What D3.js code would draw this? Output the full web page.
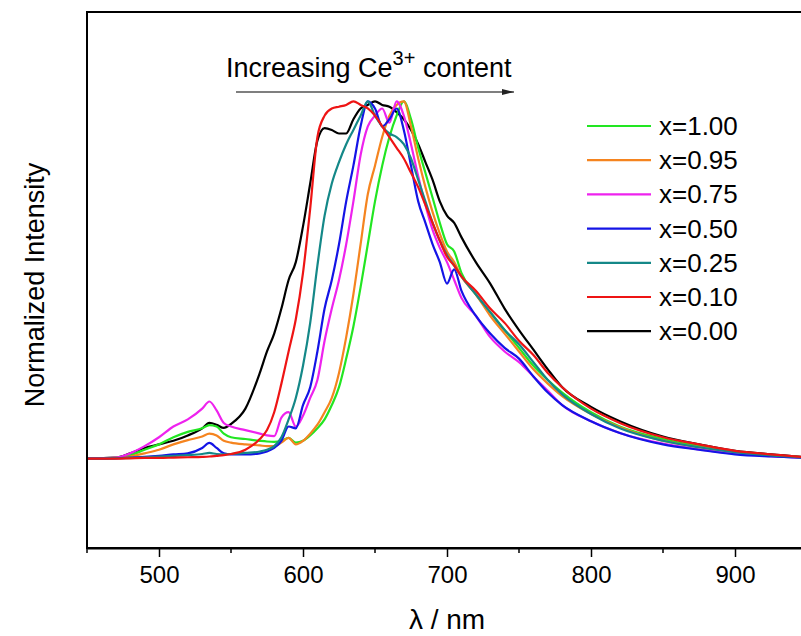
<!DOCTYPE html>
<html>
<head>
<meta charset="utf-8">
<script src="https://cdn.jsdelivr.net/npm/d3@7"></script>
<style>
  body { margin: 0; background: #fff; }
  text { font-family: "Liberation Sans", Arial, sans-serif; fill: #000; }
</style>
</head>
<body>
<div id="chart"></div>
<script>
// wavelength grid (nm) shared by all spectra
const wavelengths = [450, 470, 480, 490, 500, 510, 520, 530, 535, 540, 545, 550, 560, 570, 575, 580, 585, 590, 595, 600,
  605, 610, 615, 620, 625, 630, 635, 640, 645, 650, 655, 660, 665, 670, 675, 680, 685, 690, 695, 700,
  705, 710, 720, 730, 740, 750, 760, 770, 780, 800, 820, 850, 875, 900, 925, 950];

const x100 = [0, 0.003, 0.01, 0.025, 0.04, 0.06, 0.075, 0.085, 0.094, 0.09, 0.07, 0.06, 0.055, 0.05, 0.048, 0.047, 0.05, 0.058, 0.045, 0.05,
  0.065, 0.085, 0.11, 0.15, 0.2, 0.28, 0.37, 0.48, 0.6, 0.72, 0.82, 0.9, 0.96, 1.0, 0.95, 0.87, 0.8, 0.73, 0.66, 0.6,
  0.58, 0.52, 0.46, 0.41, 0.36, 0.31, 0.26, 0.22, 0.185, 0.13, 0.09, 0.055, 0.035, 0.02, 0.01, 0.003];
const x095 = [0, 0.002, 0.006, 0.015, 0.025, 0.04, 0.052, 0.062, 0.07, 0.065, 0.05, 0.045, 0.04, 0.037, 0.035, 0.035, 0.045, 0.058, 0.04, 0.05,
  0.07, 0.095, 0.13, 0.17, 0.24, 0.34, 0.46, 0.6, 0.74, 0.82, 0.9, 0.96, 0.99, 1.0, 0.93, 0.84, 0.76, 0.69, 0.63, 0.58,
  0.55, 0.51, 0.46, 0.4, 0.35, 0.3, 0.25, 0.21, 0.175, 0.125, 0.088, 0.05, 0.032, 0.018, 0.009, 0.003];
const x075 = [0, 0.003, 0.015, 0.035, 0.06, 0.09, 0.11, 0.14, 0.16, 0.135, 0.1, 0.09, 0.08, 0.07, 0.065, 0.063, 0.115, 0.13, 0.09, 0.12,
  0.17, 0.22, 0.33, 0.42, 0.5, 0.6, 0.72, 0.85, 0.93, 0.96, 0.98, 0.94, 1.0, 0.96, 0.88, 0.79, 0.71, 0.64, 0.59, 0.55,
  0.5, 0.45, 0.4, 0.34, 0.3, 0.27, 0.23, 0.19, 0.15, 0.105, 0.072, 0.042, 0.026, 0.014, 0.007, 0.002];
const x050 = [0, 0.001, 0.003, 0.005, 0.008, 0.012, 0.015, 0.03, 0.044, 0.03, 0.015, 0.012, 0.012, 0.015, 0.02, 0.03, 0.05, 0.09, 0.085, 0.15,
  0.2, 0.3, 0.42, 0.5, 0.6, 0.72, 0.82, 0.93, 1.0, 0.98, 0.93, 0.95, 0.98, 0.92, 0.82, 0.72, 0.66, 0.6, 0.55, 0.49,
  0.53, 0.47, 0.4, 0.35, 0.31, 0.28, 0.23, 0.185, 0.15, 0.105, 0.072, 0.04, 0.025, 0.012, 0.006, 0.002];
const x025 = [0, 0.001, 0.002, 0.004, 0.006, 0.008, 0.01, 0.013, 0.016, 0.013, 0.012, 0.013, 0.016, 0.02, 0.025, 0.035, 0.06, 0.11, 0.17, 0.26,
  0.38, 0.54, 0.68, 0.77, 0.83, 0.88, 0.92, 0.96, 1.0, 0.96, 0.93, 0.91, 0.9, 0.88, 0.84, 0.78, 0.72, 0.66, 0.61, 0.57,
  0.54, 0.51, 0.46, 0.41, 0.36, 0.32, 0.27, 0.22, 0.18, 0.125, 0.085, 0.05, 0.032, 0.018, 0.009, 0.003];
const x010 = [0, 0, 0.001, 0.002, 0.002, 0.003, 0.004, 0.005, 0.006, 0.008, 0.01, 0.013, 0.025, 0.055, 0.08, 0.13, 0.21, 0.3, 0.39, 0.52,
  0.7, 0.9, 0.96, 0.98, 0.985, 0.99, 1.0, 0.99, 0.98, 0.96, 0.93, 0.9, 0.87, 0.84, 0.8, 0.76, 0.71, 0.66, 0.61, 0.565,
  0.54, 0.51, 0.47, 0.42, 0.38, 0.33, 0.29, 0.24, 0.2, 0.14, 0.1, 0.06, 0.04, 0.022, 0.012, 0.004];
const x000 = [0, 0.003, 0.015, 0.03, 0.04, 0.05, 0.065, 0.085, 0.1, 0.095, 0.086, 0.097, 0.14, 0.24, 0.3, 0.35, 0.42, 0.5, 0.55, 0.65,
  0.77, 0.89, 0.925, 0.92, 0.91, 0.91, 0.95, 0.98, 0.99, 1.0, 0.99, 0.985, 0.97, 0.95, 0.92, 0.88, 0.83, 0.78, 0.72, 0.68,
  0.66, 0.62, 0.55, 0.49, 0.42, 0.36, 0.305, 0.25, 0.2, 0.145, 0.105, 0.062, 0.04, 0.022, 0.012, 0.004];

const labels = ["x=1.00", "x=0.95", "x=0.75", "x=0.50", "x=0.25", "x=0.10", "x=0.00"];
const colors = ["#22e622", "#f5841f", "#ee22ee", "#1414e6", "#148888", "#ee1414", "#000000"];
const spectra = [x100, x095, x075, x050, x025, x010, x000];

const xTicks = [500, 600, 700, 800, 900];
const xMinorTicks = [450, 550, 650, 750, 850, 950];

const w = 801, h = 636;
const margin = { left: 87, top: 12, right: 807, bottom: 548 };

const svg = d3.select("#chart")
  .append("svg")
  .attr("width", w)
  .attr("height", h);

const x = d3.scaleLinear().domain([450, 950]).range([margin.left, margin.right]);
const y = d3.scaleLinear().domain([-0.25, 1.25]).range([margin.bottom, margin.top]);

const series = labels.map((label, i) => ({
  label,
  color: colors[i],
  points: wavelengths.map((wl, j) => [wl, spectra[i][j]])
}));

const line = d3.line()
  .x(d => x(d[0]))
  .y(d => y(d[1]))
  .curve(d3.curveMonotoneX);

// draw order: black underneath, red on top
const drawOrder = [6, 0, 1, 2, 3, 4, 5];
svg.append("g")
  .selectAll("path")
  .data(drawOrder.map(i => series[i]))
  .join("path")
  .attr("d", d => line(d.points))
  .attr("fill", "none")
  .attr("stroke", d => d.color)
  .attr("stroke-width", 2.2)
  .attr("stroke-linejoin", "round");

// frame
svg.append("rect")
  .attr("x", margin.left)
  .attr("y", margin.top)
  .attr("width", margin.right - margin.left)
  .attr("height", margin.bottom - margin.top)
  .attr("fill", "none")
  .attr("stroke", "#000")
  .attr("stroke-width", 2);

// x axis
const xAxis = svg.append("g")
  .attr("transform", `translate(0,${margin.bottom})`)
  .call(d3.axisBottom(x).tickValues(xTicks).tickSize(9).tickPadding(9).tickSizeOuter(0));
xAxis.select(".domain").attr("stroke-width", 2);
xAxis.selectAll(".tick line").attr("stroke-width", 1.5);
xAxis.selectAll(".tick text")
  .style("font-family", '"Liberation Sans", Arial, sans-serif')
  .style("font-size", "24px")
  .attr("fill", "#000");

svg.append("g")
  .attr("transform", `translate(0,${margin.bottom})`)
  .selectAll("line")
  .data(xMinorTicks)
  .join("line")
  .attr("x1", d => x(d))
  .attr("x2", d => x(d))
  .attr("y1", 0)
  .attr("y2", 5)
  .attr("stroke", "#000")
  .attr("stroke-width", 1.5);

// axis titles
svg.append("text")
  .attr("x", (margin.left + margin.right) / 2)
  .attr("y", 629)
  .attr("text-anchor", "middle")
  .style("font-size", "28px")
  .text("λ / nm");

svg.append("text")
  .attr("transform", `translate(44,${(margin.top + margin.bottom) / 2 + 5}) rotate(-90)`)
  .attr("text-anchor", "middle")
  .style("font-size", "27px")
  .text("Normalized Intensity");

// annotation with arrow
const note = svg.append("text")
  .attr("x", 226)
  .attr("y", 77)
  .style("font-size", "27px");
note.append("tspan").text("Increasing Ce");
note.append("tspan").attr("dy", -12).style("font-size", "20px").text("3+");
note.append("tspan").attr("dy", 12).text(" content");

svg.append("defs").append("marker")
  .attr("id", "arrow")
  .attr("viewBox", "0 0 12 6")
  .attr("refX", 12)
  .attr("refY", 3)
  .attr("markerWidth", 13)
  .attr("markerHeight", 6)
  .attr("markerUnits", "userSpaceOnUse")
  .attr("orient", "auto")
  .append("path")
  .attr("d", "M0,0L12,3L0,6Z")
  .attr("fill", "#222");

svg.append("line")
  .attr("x1", 236)
  .attr("x2", 514)
  .attr("y1", 92)
  .attr("y2", 92)
  .attr("stroke", "#555")
  .attr("stroke-width", 1.3)
  .attr("marker-end", "url(#arrow)");

// legend
const legend = svg.append("g")
  .selectAll("g")
  .data(series)
  .join("g")
  .attr("transform", (d, i) => `translate(587,${126 + i * 34.2})`);

legend.append("line")
  .attr("x1", 0)
  .attr("x2", 64)
  .attr("stroke", d => d.color)
  .attr("stroke-width", 2.2);

legend.append("text")
  .attr("x", 72)
  .attr("y", 9)
  .style("font-size", "26px")
  .text(d => d.label);
</script>
</body>
</html>
